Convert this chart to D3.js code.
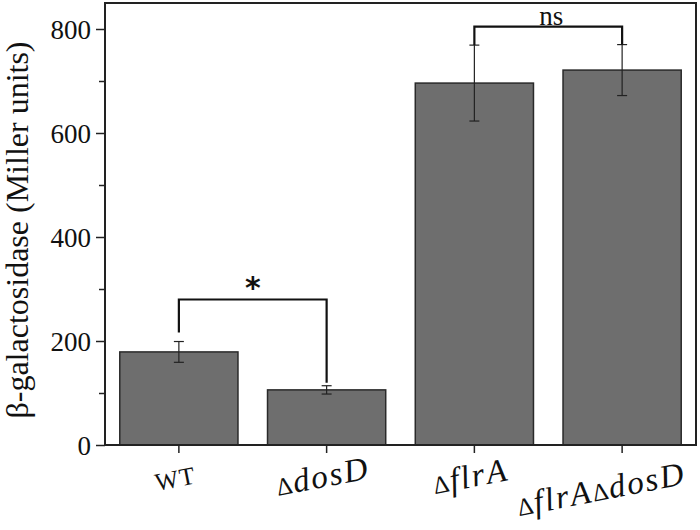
<!DOCTYPE html>
<html><head><meta charset="utf-8">
<script src="https://cdn.jsdelivr.net/npm/d3@7"></script>
<style>body{margin:0;background:#fff}svg{display:block}text{font-family:"Liberation Serif","Times New Roman",serif;fill:#111}</style>
</head><body><svg id="c" width="700" height="530"></svg>
<script>
const categories = ["WT", "ΔdosD", "ΔflrA", "ΔflrAΔdosD"];
const labelParts = [[["WT",false]],[["Δ",false],["dosD",true]],[["Δ",false],["flrA",true]],[["Δ",false],["flrA",true],["Δ",false],["dosD",true]]];
const means = [179, 106, 696, 721];
const errors = [20, 8, 73, 49];
const yTicks = [0, 200, 400, 600, 800];
const yMinor = [100, 300, 500, 700];
const comparisons = [{a:0, b:1, label:"*"}, {a:2, b:3, label:"ns"}];
const yLabel = "β-galactosidase (Miller units)";

const svg = d3.select("#c");
const L = 105, R = 696, T = 3, B = 445;
const x = d3.scaleBand().domain(categories).range([L, R]).paddingInner(0.2).paddingOuter(0.1);
const y = d3.scaleLinear().domain([0, 850]).range([B, T]);

// bars
svg.selectAll("rect.bar").data(categories).join("rect").attr("class","bar")
  .attr("x", d => x(d)).attr("width", x.bandwidth())
  .attr("y", (d,i) => y(means[i])).attr("height", (d,i) => B - y(means[i]))
  .attr("fill", "#6e6e6e").attr("stroke", "#2a2a2a").attr("stroke-width", 1.5);

// error bars
const eg = svg.append("g").attr("stroke","#222").attr("stroke-width",1.2);
categories.forEach((c,i) => {
  const cx = x(c) + x.bandwidth()/2;
  eg.append("line").attr("x1",cx).attr("x2",cx).attr("y1",y(means[i]+errors[i])).attr("y2",y(means[i]-errors[i]));
  [means[i]+errors[i], means[i]-errors[i]].forEach(v => eg.append("line").attr("x1",cx-5).attr("x2",cx+5).attr("y1",y(v)).attr("y2",y(v)));
});

// axes
const yAxis = d3.axisLeft(y).tickValues(yTicks).tickSize(9).tickPadding(5).tickFormat(d3.format("d"));
const ya = svg.append("g").attr("transform",`translate(${L},0)`).call(yAxis);
ya.attr("font-family", null);
ya.select(".domain").remove();
ya.selectAll("line").attr("stroke","#222").attr("stroke-width",1.5);
ya.selectAll("text").attr("font-size",27).attr("fill","#111").attr("dy","0.34em");
const ym = svg.append("g").attr("transform",`translate(${L},0)`).call(d3.axisLeft(y).tickValues(yMinor).tickSize(6).tickFormat(""));
ym.select(".domain").remove();
ym.selectAll("line").attr("stroke","#222").attr("stroke-width",1.5);

const xa = svg.append("g").attr("transform",`translate(0,${B})`).call(d3.axisBottom(x).tickSize(8).tickFormat(""));
xa.select(".domain").remove();
xa.selectAll("line").attr("stroke","#222").attr("stroke-width",1.5);

// frame
svg.append("rect").attr("x",L).attr("y",T).attr("width",R-L).attr("height",B-T)
  .attr("fill","none").attr("stroke","#222").attr("stroke-width",2);

// x labels
const ang = -11;
categories.forEach((c,i) => {
  const cx = x(c) + x.bandwidth()/2;
  const t = svg.append("text").attr("font-size",33).attr("text-anchor","middle")
    .attr("transform",`translate(${cx-2},${B+42}) rotate(${ang})`);
  labelParts[i].forEach(p => t.append("tspan").text(p[0])
    .attr("font-style", p[1] ? "italic" : "normal")
    .attr("letter-spacing", p[1] ? 2 : 1)
    .attr("font-size", p[1] ? 33 : 25));
  const w = t.node().getComputedTextLength();
  const over = cx + w/2*Math.cos(ang*Math.PI/180) - 687;
  if (over > 0) t.attr("transform",`translate(${cx-over},${B+55}) rotate(${ang})`);
});

// y label
svg.append("text").attr("font-size",32).attr("text-anchor","middle")
  .attr("transform",`translate(28,${(T+B)/2+6}) rotate(-90)`).text(yLabel);

// significance brackets
comparisons.forEach(cp => {
  const xa_ = x(categories[cp.a]) + x.bandwidth()/2, xb = x(categories[cp.b]) + x.bandwidth()/2;
  const topA = means[cp.a]+errors[cp.a], topB = means[cp.b]+errors[cp.b];
  const hv = Math.max(topA, topB);
  const yh = y(hv) - (cp.label === "*" ? 42 : 18);
  const gapA = cp.label === "*" ? 9 : 0, gapB = cp.label === "*" ? 3 : 0;
  svg.append("path").attr("d",`M${xa_},${y(topA)-gapA}V${yh}H${xb}V${y(topB)-gapB}`)
    .attr("fill","none").attr("stroke","#111").attr("stroke-width",2.2);
  svg.append("text").attr("x",(xa_+xb)/2 + (cp.label === "*" ? 0 : 3)).attr("y", yh-2)
    .attr("text-anchor","middle").attr("font-size", cp.label === "*" ? 30 : 27)
    .attr("font-weight", cp.label === "*" ? "bold" : "normal").style("font-family", cp.label === "*" ? "DejaVu Sans" : "Liberation Serif")
    .text(cp.label);
});
</script></body></html>
